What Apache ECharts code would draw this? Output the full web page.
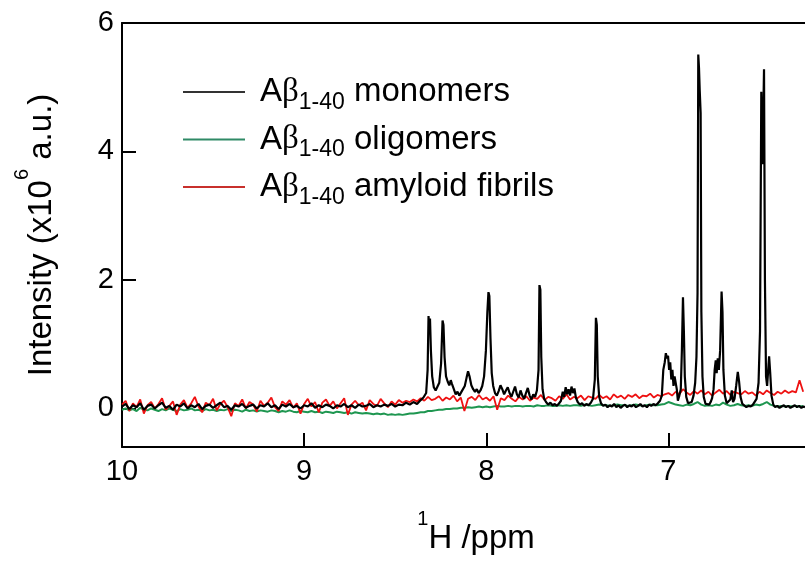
<!DOCTYPE html>
<html>
<head>
<meta charset="utf-8">
<script src="https://cdn.jsdelivr.net/npm/echarts/dist/echarts.min.js"></script>
<style>html,body{margin:0;padding:0;background:#fff}#c{width:805px;height:561px}</style>
</head>
<body>
<div id="c"></div>
<script>
// ---- axis ticks ----
const xTicks = [7, 8, 9, 10];
const yTicks = [0, 2, 4, 6];

// ---- series names ----
const names = ['Aβ1-40 monomers', 'Aβ1-40 oligomers', 'Aβ1-40 amyloid fibrils'];

// ---- shared sampling grid for oligomers / fibrils (ppm, from 10.00 downward) ----
const gridStart = 10.0;
const gridStep = 0.02;

// oligomers (green), x10^6 a.u.
const oligomers = [
  -0.02, 0.00, -0.03, -0.01, -0.04, 0.01, -0.02, -0.03, 0.00, -0.02,
  -0.04, -0.01, -0.03, 0.00, -0.02, -0.04, -0.01, -0.03, -0.02, 0.00,
  -0.03, -0.02, -0.04, -0.01, -0.03, -0.02, -0.04, -0.02, -0.03, -0.01,
  -0.04, -0.02, -0.03, -0.05, -0.02, -0.04, -0.03, -0.05, -0.03, -0.04,
  -0.05, -0.03, -0.04, -0.06, -0.04, -0.05, -0.03, -0.05, -0.06, -0.04,
  -0.05, -0.06, -0.04, -0.06, -0.05, -0.07, -0.05, -0.06, -0.07, -0.05,
  -0.06, -0.07, -0.06, -0.08, -0.06, -0.07, -0.08, -0.07, -0.08, -0.09,
  -0.08, -0.09, -0.08, -0.10, -0.09, -0.10, -0.09, -0.10, -0.09, -0.08,
  -0.08, -0.07, -0.06, -0.06, -0.04, -0.04, -0.03, -0.02, -0.02, -0.01,
  -0.01, 0.00, 0.00, 0.01, 0.01, 0.02, 0.01, 0.02, 0.03, 0.02,
  0.03, 0.02, 0.03, 0.04, 0.03, 0.03, 0.04, 0.03, 0.04, 0.04,
  0.03, 0.04, 0.04, 0.03, 0.05, 0.04, 0.04, 0.05, 0.04, 0.04,
  0.05, 0.04, 0.05, 0.04, 0.05, 0.05, 0.04, 0.06, 0.05, 0.04,
  0.05, 0.06, 0.05, 0.05, 0.04, 0.05, 0.06, 0.05, 0.05, 0.04,
  0.05, 0.06, 0.05, 0.04, 0.05, 0.06, 0.05, 0.05, 0.06, 0.07,
  0.10, 0.08, 0.06, 0.05, 0.04, 0.06, 0.05, 0.07, 0.10, 0.06,
  0.04, 0.05, 0.04, 0.06, 0.05, 0.09, 0.06, 0.04, 0.05, 0.07,
  0.05, 0.04, 0.05, 0.04, 0.06, 0.05, 0.07, 0.10, 0.06, 0.04,
  0.03, 0.04, 0.03, 0.04, 0.03, 0.04, 0.03, 0.04
];

// amyloid fibrils (red), x10^6 a.u.
const fibrils = [
  0.06, 0.12, -0.04, 0.08, 0.02, 0.14, -0.08, 0.05, 0.10, 0.00,
  0.07, 0.16, -0.02, 0.04, 0.11, -0.10, 0.06, 0.13, 0.01, 0.08,
  0.18, 0.03, -0.06, 0.09, 0.05, 0.15, -0.03, 0.07, 0.12, 0.02,
  -0.12, 0.08, 0.04, 0.14, 0.00, 0.10, 0.06, -0.05, 0.12, 0.04,
  0.09, 0.17, 0.02, -0.04, 0.11, 0.06, 0.13, 0.01, 0.08, -0.08,
  0.07, 0.15, 0.03, 0.10, -0.06, 0.09, 0.14, 0.04, 0.11, 0.00,
  0.08, 0.16, -0.10, 0.06, 0.12, 0.05, 0.09, -0.03, 0.13, 0.07,
  0.04, 0.15, 0.08, 0.02, 0.11, 0.06, 0.13, 0.09, 0.12, 0.10,
  0.14, 0.11, 0.16, 0.12, 0.18, 0.13, 0.15, 0.19, 0.12, 0.17,
  0.14, 0.20, 0.11, 0.17, -0.04, 0.15, 0.18, 0.13, 0.21, 0.14,
  0.17, 0.12, 0.19, -0.02, 0.16, 0.13, 0.20, 0.15, 0.11, 0.18,
  0.14, 0.19, 0.12, 0.17, 0.15, 0.21, 0.13, 0.18, 0.16, 0.12,
  0.19, 0.15, 0.22, 0.14, 0.18, 0.16, 0.20, 0.13, 0.19, 0.17,
  0.15, 0.21, 0.16, 0.19, 0.14, 0.22, 0.17, 0.20, 0.15, 0.21,
  0.18, 0.22, 0.16, 0.20, 0.19, 0.23, 0.17, 0.21, 0.19, 0.22,
  0.24, 0.20, 0.26, 0.22, 0.30, 0.25, 0.21, 0.27, 0.23, 0.28,
  0.22, 0.26, 0.20, 0.25, 0.29, 0.23, 0.27, 0.21, 0.26, 0.24,
  0.22, 0.27, 0.23, 0.25, 0.20, 0.26, 0.22, 0.28, 0.24, 0.21,
  0.26, 0.23, 0.28, 0.24, 0.27, 0.25, 0.44, 0.26
];

// monomers (black): [ppm, intensity x10^6 a.u.]
const monomers = [
  [10.00,0.03],[9.98,0.07],[9.96,-0.01],[9.94,0.05],[9.92,0.02],[9.90,0.08],[9.88,-0.02],[9.86,0.04],[9.84,0.06],[9.82,0.00],
  [9.80,0.05],[9.78,0.09],[9.76,0.01],[9.74,0.04],[9.72,-0.02],[9.70,0.06],[9.68,0.03],[9.66,0.08],[9.64,0.00],[9.62,0.05],
  [9.60,0.02],[9.58,0.07],[9.56,-0.01],[9.54,0.04],[9.52,0.06],[9.50,0.01],[9.48,0.05],[9.46,0.09],[9.44,0.02],[9.42,0.04],
  [9.40,-0.02],[9.38,0.05],[9.36,0.03],[9.34,0.07],[9.32,0.01],[9.30,0.04],[9.28,0.06],[9.26,0.00],[9.24,0.05],[9.22,0.03],
  [9.20,0.08],[9.18,0.02],[9.16,0.05],[9.14,-0.01],[9.12,0.06],[9.10,0.03],[9.08,0.07],[9.06,0.02],[9.04,0.04],[9.02,0.00],
  [9.00,0.05],[8.98,0.03],[8.96,0.08],[8.94,0.01],[8.92,0.05],[8.90,0.02],[8.88,0.06],[8.86,0.04],[8.84,0.00],[8.82,0.05],
  [8.80,0.03],[8.78,0.07],[8.76,0.02],[8.74,0.05],[8.72,0.01],[8.70,0.06],[8.68,0.03],[8.66,0.04],[8.64,0.07],[8.62,0.02],
  [8.60,0.05],[8.58,0.03],[8.56,0.06],[8.54,0.04],[8.52,0.07],[8.50,0.03],[8.48,0.06],[8.46,0.05],[8.44,0.09],[8.42,0.06],
  [8.40,0.10],[8.38,0.07],[8.36,0.13],[8.345,0.17],[8.33,0.24],[8.322,0.6],[8.317,1.44],[8.313,1.25],[8.309,1.40],[8.304,0.9],
  [8.297,0.5],[8.288,0.33],[8.278,0.28],[8.268,0.3],[8.258,0.4],[8.248,0.7],[8.240,1.37],[8.235,1.30],[8.229,0.8],[8.221,0.5],
  [8.212,0.42],[8.203,0.36],[8.195,0.44],[8.188,0.38],[8.178,0.3],[8.168,0.22],[8.158,0.26],[8.148,0.2],[8.138,0.25],[8.128,0.28],
  [8.118,0.35],[8.108,0.48],[8.100,0.58],[8.092,0.5],[8.082,0.36],[8.072,0.3],[8.062,0.26],[8.052,0.3],[8.042,0.24],[8.032,0.28],
  [8.022,0.35],[8.012,0.5],[8.002,0.9],[7.994,1.5],[7.988,1.81],[7.983,1.75],[7.977,1.1],[7.970,0.55],[7.962,0.35],[7.952,0.24],
  [7.942,0.2],[7.932,0.27],[7.922,0.36],[7.912,0.3],[7.902,0.22],[7.892,0.28],[7.882,0.33],[7.872,0.24],[7.862,0.18],[7.852,0.26],
  [7.842,0.34],[7.832,0.22],[7.822,0.17],[7.812,0.28],[7.802,0.2],[7.792,0.15],[7.782,0.24],[7.772,0.32],[7.762,0.2],[7.752,0.14],
  [7.742,0.22],[7.732,0.18],[7.722,0.28],[7.713,0.6],[7.708,1.92],[7.703,1.85],[7.698,0.8],[7.691,0.3],[7.682,0.15],[7.672,0.1],
  [7.660,0.06],[7.648,0.09],[7.636,0.05],[7.624,0.07],[7.612,0.04],[7.600,0.08],[7.590,0.12],[7.580,0.26],[7.572,0.18],[7.564,0.33],
  [7.556,0.22],[7.548,0.3],[7.540,0.2],[7.532,0.34],[7.524,0.24],[7.516,0.31],[7.508,0.17],[7.498,0.1],[7.486,0.06],[7.474,0.08],
  [7.462,0.04],[7.450,0.07],[7.438,0.05],[7.426,0.09],[7.414,0.15],[7.404,0.45],[7.398,1.41],[7.393,1.3],[7.388,0.5],[7.380,0.18],
  [7.370,0.08],[7.358,0.04],[7.346,0.06],[7.334,0.02],[7.322,0.05],[7.310,0.03],[7.298,0.07],[7.286,0.02],[7.274,0.05],[7.262,0.01],
  [7.250,0.04],[7.238,0.06],[7.226,0.02],[7.214,0.05],[7.202,0.03],[7.190,0.06],[7.178,0.02],[7.166,0.04],[7.154,0.07],[7.142,0.03],
  [7.130,0.05],[7.118,0.02],[7.106,0.06],[7.094,0.04],[7.082,0.07],[7.070,0.05],[7.058,0.08],[7.046,0.12],[7.036,0.2],[7.028,0.6],
  [7.020,0.72],[7.014,0.86],[7.008,0.78],[7.002,0.82],[6.996,0.6],[6.990,0.72],[6.984,0.45],[6.978,0.6],[6.972,0.35],[6.966,0.5],
  [6.960,0.52],[6.954,0.3],[6.948,0.12],[6.940,0.2],[6.932,0.3],[6.926,0.9],[6.920,1.73],[6.915,1.2],[6.910,0.5],[6.902,0.18],
  [6.892,0.08],[6.882,0.05],[6.872,0.1],[6.862,0.2],[6.853,0.4],[6.846,0.8],[6.840,1.8],[6.836,5.51],[6.832,5.3],[6.828,4.95],
  [6.823,4.6],[6.819,1.5],[6.813,0.5],[6.806,0.18],[6.796,0.07],[6.786,0.04],[6.776,0.06],[6.768,0.1],[6.760,0.16],[6.752,0.3],
  [6.746,0.6],[6.740,0.75],[6.735,0.55],[6.729,0.78],[6.723,0.6],[6.716,0.9],[6.708,1.82],[6.703,1.5],[6.698,0.6],[6.690,0.2],
  [6.680,0.08],[6.670,0.05],[6.660,0.14],[6.652,0.28],[6.645,0.1],[6.637,0.15],[6.628,0.35],[6.619,0.57],[6.612,0.42],[6.604,0.18],
  [6.594,0.07],[6.584,0.04],[6.572,0.02],[6.560,0.04],[6.548,0.03],[6.536,0.06],[6.526,0.08],[6.516,0.15],[6.505,0.4],[6.497,1.2],
  [6.490,4.93],[6.485,3.8],[6.480,4.4],[6.475,5.28],[6.470,2.0],[6.464,0.5],[6.458,0.35],[6.452,0.6],[6.447,0.81],[6.441,0.55],
  [6.434,0.2],[6.424,0.06],[6.414,0.02],[6.402,0.04],[6.390,0.01],[6.378,0.03],[6.366,0.05],[6.354,0.02],[6.342,0.04],[6.330,0.01],
  [6.318,0.03],[6.306,0.05],[6.294,0.02],[6.282,0.04],[6.270,0.01],[6.258,0.03],[6.250,0.02]
];

// ---- build series data ----
const toGrid = arr => arr.map((v, i) => [+(gridStart - i * gridStep).toFixed(2), v]);
const colors = ['#000000', '#1e9650', '#ee1111'];
const legendColors = ['#333333', '#2f8a66', '#c8302c'];
const FONT = 'Liberation Sans, Arial, sans-serif';

const chart = echarts.init(document.getElementById('c'), null, {renderer: 'canvas'});
const axisLineStyle = {color: '#000', width: 2};

chart.setOption({
  animation: false,
  backgroundColor: '#fff',
  grid: {left: 122, right: 0, top: 23, bottom: 114, containLabel: false, outerBoundsMode: 'none'},
  legend: {
    orient: 'vertical', left: 183, top: 70, padding: 0,
    itemWidth: 62, itemHeight: 2, itemGap: 3.5, icon: 'rect',
    selectedMode: false,
    data: names.map((n, i) => ({name: n, itemStyle: {color: legendColors[i]}})),
    formatter: n => n.replace('Aβ1-40', '{g| }A{b|β}{sub|1-40}'),
    textStyle: {
      fontFamily: FONT, fontSize: 33, lineHeight: 44, color: '#000',
      rich: {
        g: {width: 10, fontSize: 33, lineHeight: 44},
        b: {fontFamily: 'Liberation Serif, DejaVu Serif, serif', fontSize: 33, lineHeight: 44, color: '#000'},
        sub: {fontFamily: FONT, fontSize: 23, lineHeight: 20, verticalAlign: 'bottom', color: '#000'}
      }
    }
  },
  xAxis: [{
    type: 'value', inverse: true, min: 6.25, max: 10,
    position: 'bottom',
    axisLine: {show: true, onZero: false, lineStyle: axisLineStyle},
    axisTick: {show: true, inside: true, length: 14, lineStyle: axisLineStyle, customValues: xTicks},
    axisLabel: {fontFamily: FONT, fontSize: 29, color: '#000', margin: 10, customValues: xTicks},
    splitLine: {show: false},
    name: '{sup|1}H /ppm', nameLocation: 'middle', nameGap: 62,
    nameTextStyle: {
      fontFamily: FONT, fontSize: 33, lineHeight: 60, color: '#000', padding: [0, 0, 0, 25],
      rich: {sup: {fontFamily: FONT, fontSize: 20, lineHeight: 24, verticalAlign: 'top', color: '#000'}}
    }
  }, {
    type: 'value', inverse: true, min: 6.25, max: 10, position: 'top',
    axisLine: {show: true, onZero: false, lineStyle: axisLineStyle},
    axisTick: {show: false}, axisLabel: {show: false}, splitLine: {show: false}
  }],
  yAxis: {
    type: 'value', min: -0.6, max: 6,
    axisLine: {show: true, onZero: false, lineStyle: axisLineStyle},
    axisTick: {show: true, inside: true, length: 14, lineStyle: axisLineStyle, customValues: yTicks},
    axisLabel: {fontFamily: FONT, fontSize: 29, color: '#000', margin: 8, customValues: yTicks},
    splitLine: {show: false},
    name: 'Intensity (x10{sup|6} a.u.)', nameLocation: 'middle', nameGap: 50,
    nameTextStyle: {
      fontFamily: FONT, fontSize: 33, lineHeight: 60, color: '#000',
      rich: {sup: {fontFamily: FONT, fontSize: 20, lineHeight: 24, verticalAlign: 'top', color: '#000'}}
    }
  },
  series: [
    {name: names[1], type: 'line', data: toGrid(oligomers), symbol: 'none', z: 2,
     lineStyle: {color: colors[1], width: 2}, itemStyle: {color: colors[1]}},
    {name: names[2], type: 'line', data: toGrid(fibrils), symbol: 'none', z: 3,
     lineStyle: {color: colors[2], width: 1.8}, itemStyle: {color: colors[2]}},
    {name: names[0], type: 'line', data: monomers, symbol: 'none', z: 4,
     lineStyle: {color: colors[0], width: 2.2}, itemStyle: {color: colors[0]}}
  ]
});
</script>
</body>
</html>
